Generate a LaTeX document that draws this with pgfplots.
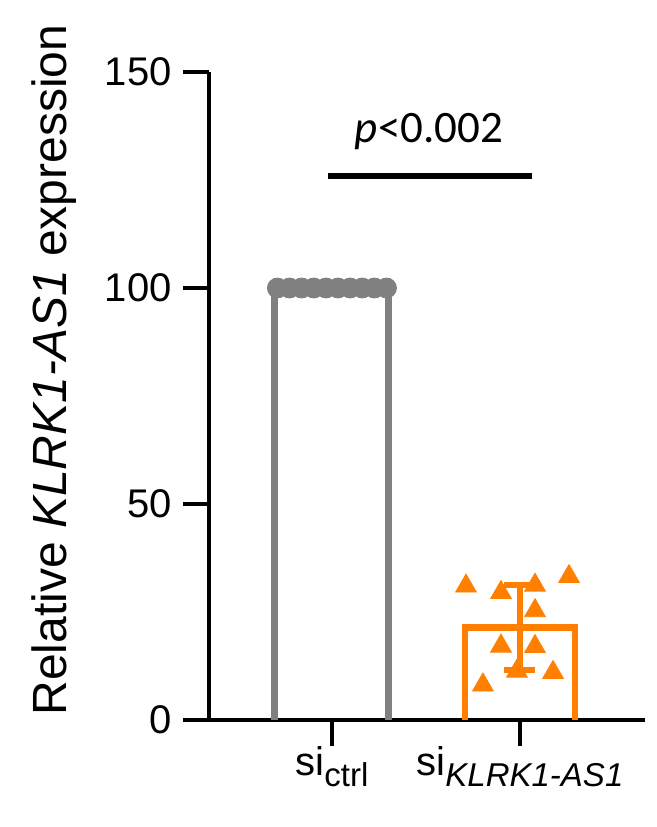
\documentclass[border=0pt]{standalone}
\usepackage{pgfplots}
\pgfplotsset{compat=1.18}
\usepackage{fontspec}
\setmainfont{Liberation Sans}
\newfontfamily\calibri{Carlito}
\definecolor{ctrlgray}{RGB}{128,128,128}
\definecolor{kdorange}{RGB}{255,128,0}

\begin{document}
\begin{tikzpicture}
\useasboundingbox (0,0) rectangle (328.5pt,413.5pt);
\begin{axis}[
  at={(104.5pt,53.5pt)}, anchor=south west,
  scale only axis, width=218pt, height=324pt,
  xmin=-0.654, xmax=1.665, ymin=0, ymax=150,
  axis lines=left,
  axis line style={-, line width=1.6pt, black},
  xtick={0,1}, ytick={0,50,100,150},
  xticklabels={
    si\raisebox{-5.5pt}{\fontsize{16.5}{18}\selectfont ctrl},
    si\raisebox{-5.5pt}{\fontsize{16.5}{18}\selectfont\itshape KLRK1-AS1}},
  tick align=outside, major tick length=13pt,
  tick style={line width=1.6pt, black},
  /pgf/number format/assume math mode=true,
  ticklabel style={font=\fontsize{20}{24}\selectfont},
  yticklabel style={inner sep=0pt, xshift=-5.5pt},
  xticklabel style={inner sep=0pt},
  clip=false,
  ylabel={Relative \textit{KLRK1-AS1} expression},
  ylabel style={at={(axis description cs:-0.303,0.540)}, anchor=south,
    inner sep=0pt, font=\fontsize{24}{28}\selectfont},
]
% control bar: outline only, no bottom edge
\addplot[ctrlgray, line width=3.5pt, line join=round]
  coordinates {(-0.303,0) (-0.303,100) (0.303,100) (0.303,0)};
% control replicates (all normalised to 100)
\addplot[only marks, mark=*, mark size=5pt, ctrlgray,
  mark options={draw=ctrlgray, fill=ctrlgray}]
  coordinates {(-0.29,100) (-0.2256,100) (-0.1611,100) (-0.0967,100)
    (-0.0322,100) (0.0322,100) (0.0967,100) (0.1611,100) (0.2256,100) (0.29,100)};
% knockdown bar
\addplot[kdorange, line width=3.3pt, line join=miter]
  coordinates {(0.707,0) (0.707,21.4) (1.293,21.4) (1.293,0)};
% knockdown replicates
\addplot[only marks, mark=triangle*, mark size=6pt,
  mark options={draw=kdorange, fill=kdorange}]
  coordinates {(0.713,31.0) (0.899,29.5) (1.080,31.2) (1.261,33.2)
    (1.080,25.3) (0.899,17.1) (1.080,17.0) (0.984,11.3) (1.176,11.0) (0.803,8.1)};
% mean +- SD
\addplot[draw=none, mark=none,
  error bars/.cd, y dir=both, y explicit,
  error bar style={line width=3.2pt, kdorange},
  error mark options={rotate=90, mark size=7.75pt, line width=3pt, kdorange}]
  coordinates {(1,21.4) +- (0,9.9)};
% significance bracket
\addplot[black, line width=3pt] coordinates {(-0.02,125.9) (1.064,125.9)};
\node[anchor=base, inner sep=0pt, font=\calibri\fontsize{22.5}{26}\selectfont]
  at (axis cs:0.516,133.6) {\textit{p}<0.002};
\end{axis}
\end{tikzpicture}
\end{document}
